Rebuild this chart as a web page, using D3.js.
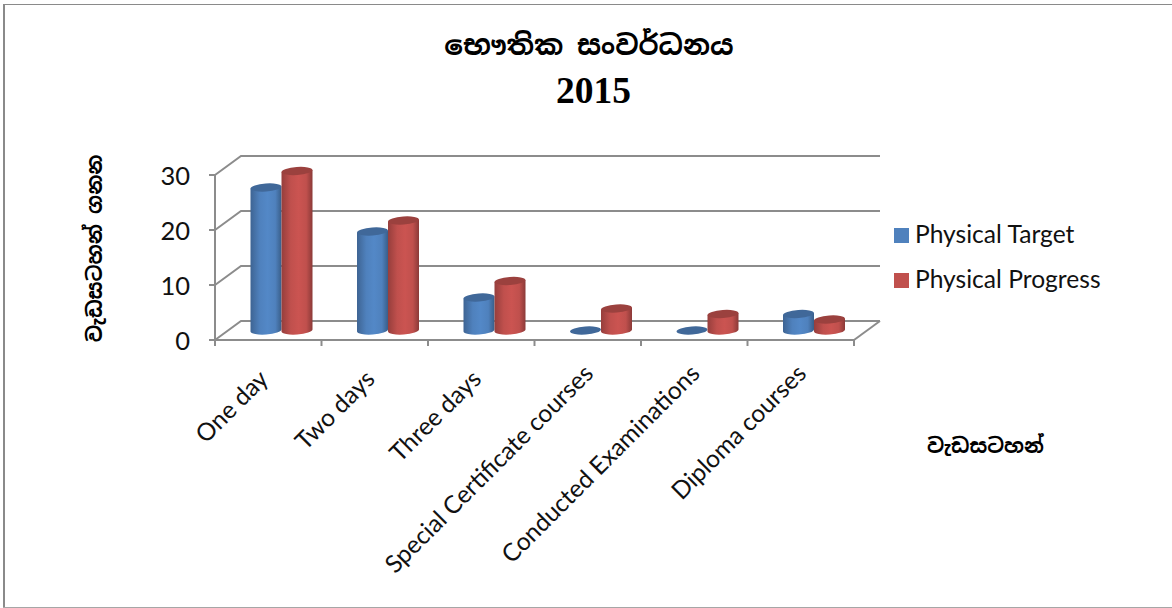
<!DOCTYPE html>
<html>
<head>
<meta charset="utf-8">
<script src="https://cdnjs.cloudflare.com/ajax/libs/d3/7.8.5/d3.min.js"></script>
<style>
body { margin: 0; background: #fff; }
text { font-family: Lato, Carlito, "Noto Sans", sans-serif; fill: #111; }
.sinhala { font-family: "Noto Sans Sinhala", "Iskoola Pota", "DejaVu Sans", "Noto Sans", sans-serif; font-weight: bold; fill: #000; }
</style>
</head>
<body>
<svg id="chart" width="1172" height="608"></svg>
<script>
var categories = ["One day", "Two days", "Three days", "Special Certificate courses", "Conducted Examinations", "Diploma courses"];
var seriesNames = ["Physical Target", "Physical Progress"];
var physicalTarget = [26, 18, 6, 0, 0, 3];
var physicalProgress = [29, 20, 9, 4, 3, 2];
var yTicks = [0, 10, 20, 30];
var seriesColors = ["#4f81bd", "#c0504d"];
var titleLine = "භෞතික සංවර්ධනය";
var titleYear = "2015";
var yTitle = "වැඩසටහන් ගනන";
var xTitle = "වැඩසටහන්";

!(function(){
    "use strict";

    var svg = d3.select("#chart");
    var depthX = 26, depthY = 19;
    var gridColor = "#8c8c8c";

    var x = d3.scaleBand().domain(categories).range([215, 854]);
    var y = d3.scaleLinear().domain([0, 30]).range([340, 175]);
    var inner = d3.scaleBand().domain(seriesNames).range([35.5, 97.5]);
    var rx = inner.bandwidth() / 2, ry = 4;
    var tilt = -4;   // the tops lean up to the right a little
    var tiltDy = rx * Math.sin(-tilt * Math.PI / 180);

    main();

    function main() {
        addFrame();
        addDefs();
        drawWalls();
        drawBars();
        drawLegend();
        drawText();
    }

    function addFrame() {
        // only three sides of the frame show, the right one is cut off
        svg.append("line").attr("x1", 4).attr("x2", 4).attr("y1", 4).attr("y2", 608)
            .attr("stroke", "#8a8a8a").attr("stroke-width", 2);
        svg.append("line").attr("x1", 3).attr("x2", 1172).attr("y1", 4.5).attr("y2", 4.5)
            .attr("stroke", "#8a8a8a").attr("stroke-width", 1);
        svg.append("line").attr("x1", 3).attr("x2", 1172).attr("y1", 607.5).attr("y2", 607.5)
            .attr("stroke", "#a6a6a6").attr("stroke-width", 1);
    }

    function addDefs() {
        var defs = svg.append("defs");
        seriesColors.forEach(function(c, i) {
            var g = defs.append("linearGradient").attr("id", "cyl" + i);
            g.append("stop").attr("offset", "0%").attr("stop-color", d3.rgb(c).darker(0.7));
            g.append("stop").attr("offset", "30%").attr("stop-color", c);
            g.append("stop").attr("offset", "55%").attr("stop-color", d3.rgb(c).brighter(0.15));
            g.append("stop").attr("offset", "80%").attr("stop-color", c);
            g.append("stop").attr("offset", "100%").attr("stop-color", d3.rgb(c).darker(0.9));
        });
    }

    function drawWalls() {
        var g = svg.append("g")
            .attr("stroke", gridColor).attr("stroke-width", 2).attr("fill", "none");

        // back wall lines and the slanted bit on the side wall
        yTicks.forEach(function(t) {
            g.append("path").attr("d", d3.line()([
                [x.range()[0], y(t)],
                [x.range()[0] + depthX, y(t) - depthY],
                [x.range()[1] + depthX, y(t) - depthY]
            ]));
            g.append("line")
                .attr("x1", x.range()[0] - 6).attr("x2", x.range()[0])
                .attr("y1", y(t)).attr("y2", y(t));
        });

        g.append("line")
            .attr("x1", x.range()[0]).attr("x2", x.range()[0])
            .attr("y1", y(30)).attr("y2", y(0));

        // floor
        g.append("line")
            .attr("x1", x.range()[0]).attr("x2", x.range()[1])
            .attr("y1", y(0)).attr("y2", y(0));
        g.append("line")
            .attr("x1", x.range()[1]).attr("x2", x.range()[1] + depthX)
            .attr("y1", y(0)).attr("y2", y(0) - depthY);

        // ticks under the floor
        categories.concat([null]).forEach(function(c) {
            var px = c === null ? x.range()[1] : x(c);
            g.append("line")
                .attr("x1", px).attr("x2", px)
                .attr("y1", y(0)).attr("y2", y(0) + 6);
        });
    }

    function drawBars() {
        var zero = y(0) - depthY / 2;
        var rows = [];
        categories.forEach(function(c, i) {
            rows.push({cat: c, s: 0, v: physicalTarget[i]});
            rows.push({cat: c, s: 1, v: physicalProgress[i]});
        });

        var bars = svg.append("g").selectAll("g")
            .data(rows)
            .enter()
            .append("g");

        function cx(d) { return x(d.cat) + inner(seriesNames[d.s]) + rx; }
        function topY(d) { return zero - (y(0) - y(d.v)); }

        bars.append("path")
            .attr("fill", function(d) { return "url(#cyl" + d.s + ")"; })
            .attr("d", function(d) {
                if (d.v === 0) return null;
                var l = cx(d) - rx, r = cx(d) + rx;
                return "M" + l + "," + (topY(d) + tiltDy) +
                    "L" + l + "," + (zero + tiltDy) +
                    "A" + rx + "," + ry + " " + tilt + " 0 0 " + r + "," + (zero - tiltDy) +
                    "L" + r + "," + (topY(d) - tiltDy) + "Z";
            });

        bars.append("ellipse")
            .attr("cx", cx)
            .attr("cy", topY)
            .attr("rx", rx)
            .attr("ry", ry)
            .attr("transform", function(d) { return "rotate(" + tilt + " " + cx(d) + " " + topY(d) + ")"; })
            .attr("fill", function(d) { return d3.rgb(seriesColors[d.s]).darker(0.6); });
    }

    function drawLegend() {
        var legend = d3.scalePoint().domain(seriesNames).range([235, 280]);
        var g = svg.append("g").selectAll("g")
            .data(seriesNames)
            .enter()
            .append("g");

        g.append("rect")
            .attr("x", 894).attr("y", function(d) { return legend(d) - 7; })
            .attr("width", 15).attr("height", 15)
            .attr("fill", function(d, i) { return seriesColors[i]; });

        g.append("text")
            .attr("x", 915).attr("y", function(d) { return legend(d) + 8; })
            .attr("font-size", 24.6)
            .text(function(d) { return d; });
    }

    function drawText() {
        svg.append("text").attr("class", "sinhala")
            .attr("x", 589).attr("y", 55)
            .attr("text-anchor", "middle").attr("font-size", 27.7)
            .text(titleLine);

        svg.append("text")
            .attr("x", 593.5).attr("y", 103)
            .attr("text-anchor", "middle").attr("font-size", 37.5).attr("font-weight", "bold")
            .style("font-family", "'Liberation Serif', serif")
            .style("fill", "#000")
            .text(titleYear);

        svg.append("text").attr("class", "sinhala")
            .attr("transform", "translate(102,248.5) rotate(-90)")
            .attr("text-anchor", "middle").attr("font-size", 20.6)
            .text(yTitle);

        svg.append("text").attr("class", "sinhala")
            .attr("x", 985.5).attr("y", 453)
            .attr("text-anchor", "middle").attr("font-size", 20.4)
            .text(xTitle);

        svg.append("g").selectAll("text")
            .data(yTicks)
            .enter()
            .append("text")
            .attr("x", 190).attr("y", function(d) { return y(d) + 10; })
            .attr("text-anchor", "end").attr("font-size", 25.5)
            .text(function(d) { return d; });

        svg.append("g").selectAll("text")
            .data(categories)
            .enter()
            .append("text")
            .attr("text-anchor", "end").attr("font-size", 24.5)
            .attr("transform", function(d) {
                // short labels hang a bit lower and further left
                var nudge = d.length <= 10 ? 5.5 : 0;
                return "translate(" + (x(d) + x.bandwidth() / 2 + 7 - nudge) + "," + (375 + nudge) + ") rotate(-45)";
            })
            .text(function(d) { return d; });
    }
}());
</script>
</body>
</html>
